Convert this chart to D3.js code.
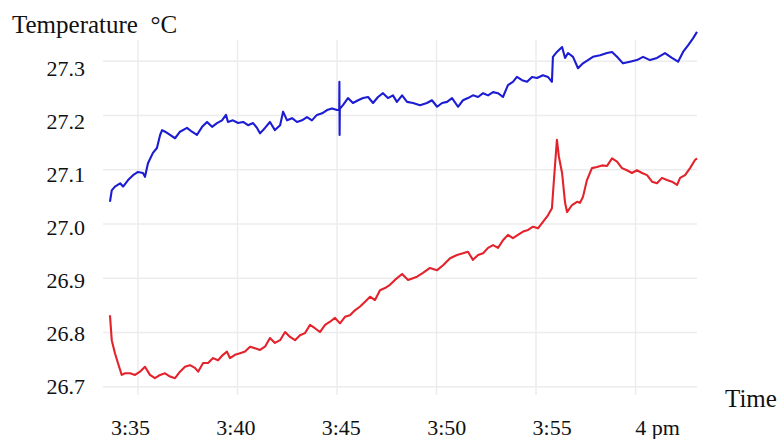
<!DOCTYPE html>
<html>
<head>
<meta charset="utf-8">
<script src="https://cdn.jsdelivr.net/npm/d3@7"></script>
<style>
  body { margin: 0; background: #fff; }
  svg { display: block; font-family: "Liberation Serif", "Times New Roman", serif; }
  .grid line { stroke: #ececec; stroke-width: 1.5; }
  .axis path, .axis line { display: none; }
  .axis text { fill: #111; font-size: 22px; font-family: "Liberation Serif", serif; }
</style>
</head>
<body>
<svg id="chart"></svg>
<script>
// time in minutes past 3:00 pm, temperature in °C
const blueTime = [33.59, 33.68, 33.84, 34.10, 34.25, 34.50, 34.75, 35.00, 35.25, 35.35, 35.50, 35.75, 35.95, 36.11, 36.21, 36.36, 36.61, 36.86, 37.11, 37.46, 37.71, 37.96, 38.22, 38.47, 38.72, 38.97, 39.22, 39.42, 39.52, 39.77, 40.03, 40.28, 40.53, 40.78, 40.98, 41.13, 41.38, 41.63, 41.88, 42.14, 42.29, 42.49, 42.74, 42.99, 43.24, 43.49, 43.74, 43.99, 44.25, 44.50, 44.75, 45.00, 45.11, 45.12, 45.13, 45.14, 45.30, 45.55, 45.80, 46.06, 46.31, 46.56, 46.81, 47.06, 47.31, 47.56, 47.81, 48.01, 48.27, 48.52, 48.82, 49.17, 49.52, 49.77, 50.03, 50.28, 50.53, 50.78, 51.08, 51.33, 51.58, 51.83, 52.09, 52.34, 52.59, 52.84, 53.09, 53.34, 53.59, 53.84, 54.04, 54.30, 54.55, 54.80, 55.05, 55.35, 55.60, 55.80, 55.85, 56.05, 56.31, 56.46, 56.61, 56.86, 57.11, 57.36, 57.61, 57.86, 58.22, 58.57, 58.82, 59.07, 59.37, 59.72, 60.07, 60.38, 60.73, 61.08, 61.48, 61.83, 62.14, 62.39, 62.64, 62.89, 63.09];
const blueTemp = [27.041, 27.062, 27.069, 27.075, 27.069, 27.081, 27.090, 27.096, 27.094, 27.087, 27.112, 27.131, 27.140, 27.164, 27.173, 27.170, 27.164, 27.158, 27.170, 27.177, 27.170, 27.164, 27.179, 27.188, 27.179, 27.186, 27.191, 27.201, 27.188, 27.191, 27.186, 27.188, 27.182, 27.186, 27.177, 27.167, 27.177, 27.188, 27.173, 27.182, 27.207, 27.191, 27.195, 27.188, 27.191, 27.197, 27.191, 27.201, 27.204, 27.210, 27.213, 27.210, 27.210, 27.262, 27.164, 27.212, 27.219, 27.232, 27.223, 27.228, 27.232, 27.234, 27.223, 27.234, 27.241, 27.232, 27.237, 27.225, 27.237, 27.225, 27.223, 27.219, 27.223, 27.228, 27.216, 27.223, 27.225, 27.232, 27.216, 27.228, 27.232, 27.237, 27.234, 27.241, 27.237, 27.243, 27.241, 27.234, 27.256, 27.262, 27.271, 27.265, 27.262, 27.271, 27.269, 27.274, 27.271, 27.262, 27.308, 27.317, 27.326, 27.306, 27.315, 27.308, 27.287, 27.296, 27.302, 27.308, 27.311, 27.315, 27.317, 27.308, 27.296, 27.299, 27.302, 27.308, 27.302, 27.306, 27.315, 27.306, 27.299, 27.317, 27.329, 27.342, 27.354];

const redTime = [33.59, 33.68, 33.84, 33.99, 34.18, 34.35, 34.60, 34.85, 35.10, 35.35, 35.60, 35.85, 36.11, 36.36, 36.61, 36.86, 37.11, 37.36, 37.61, 37.86, 38.02, 38.27, 38.52, 38.77, 39.02, 39.27, 39.47, 39.62, 39.87, 40.13, 40.38, 40.63, 40.88, 41.13, 41.38, 41.63, 41.88, 42.14, 42.39, 42.64, 42.89, 43.14, 43.39, 43.64, 43.89, 44.14, 44.40, 44.65, 44.90, 45.15, 45.40, 45.65, 45.90, 46.16, 46.41, 46.66, 46.91, 47.16, 47.41, 47.66, 47.91, 48.27, 48.57, 49.02, 49.32, 49.67, 50.03, 50.33, 50.68, 51.03, 51.33, 51.58, 51.83, 52.09, 52.34, 52.59, 52.84, 53.09, 53.34, 53.59, 53.84, 54.09, 54.35, 54.60, 54.85, 55.10, 55.35, 55.60, 55.80, 55.90, 56.05, 56.15, 56.31, 56.46, 56.56, 56.81, 57.06, 57.21, 57.36, 57.56, 57.81, 58.06, 58.32, 58.57, 58.82, 59.07, 59.32, 59.57, 59.82, 60.07, 60.33, 60.58, 60.83, 61.08, 61.33, 61.58, 61.83, 62.09, 62.24, 62.49, 62.74, 62.99, 63.09];
const redTemp = [26.832, 26.786, 26.762, 26.744, 26.722, 26.725, 26.725, 26.722, 26.728, 26.737, 26.722, 26.716, 26.722, 26.725, 26.719, 26.716, 26.728, 26.737, 26.740, 26.735, 26.728, 26.744, 26.744, 26.753, 26.749, 26.759, 26.765, 26.753, 26.759, 26.762, 26.765, 26.774, 26.771, 26.768, 26.774, 26.790, 26.781, 26.786, 26.801, 26.792, 26.786, 26.795, 26.799, 26.814, 26.808, 26.801, 26.814, 26.820, 26.827, 26.817, 26.829, 26.832, 26.841, 26.848, 26.857, 26.866, 26.860, 26.878, 26.882, 26.888, 26.897, 26.908, 26.897, 26.903, 26.910, 26.919, 26.915, 26.924, 26.937, 26.943, 26.946, 26.949, 26.934, 26.943, 26.946, 26.956, 26.961, 26.956, 26.970, 26.980, 26.974, 26.980, 26.986, 26.989, 26.995, 26.992, 27.004, 27.016, 27.029, 27.081, 27.155, 27.124, 27.094, 27.039, 27.022, 27.035, 27.041, 27.039, 27.050, 27.081, 27.103, 27.105, 27.108, 27.107, 27.121, 27.115, 27.103, 27.099, 27.094, 27.099, 27.094, 27.090, 27.078, 27.075, 27.085, 27.081, 27.078, 27.072, 27.085, 27.090, 27.103, 27.118, 27.121];

const xTicks = [35, 40, 45, 50, 55, 60];
const xTickLabels = ['3:35', '3:40', '3:45', '3:50', '3:55', '4 pm'];
const yTicks = [26.7, 26.8, 26.9, 27.0, 27.1, 27.2, 27.3];

const width = 781, height = 439;

const svg = d3.select('#chart')
    .attr('width', width)
    .attr('height', height);

const xScale = d3.scaleLinear().domain([33.24, 63.09]).range([103, 697]);
const yScale = d3.scaleLinear().domain([26.685, 27.339]).range([395, 40]);

// tick labels in the original sit slightly off their gridlines
const xLabelScale = d3.scaleLinear().domain([35, 60]).range([130, 657]);
const yLabelScale = d3.scaleLinear().domain([26.7, 27.3]).range([386, 68.5]);

// Gridlines
svg.append('g')
    .attr('class', 'grid')
    .selectAll('line.h')
    .data(yTicks)
  .join('line')
    .attr('x1', xScale.range()[0])
    .attr('x2', xScale.range()[1])
    .attr('y1', d => yScale(d))
    .attr('y2', d => yScale(d));

svg.append('g')
    .attr('class', 'grid')
    .selectAll('line.v')
    .data(xTicks)
  .join('line')
    .attr('x1', d => xScale(d))
    .attr('x2', d => xScale(d))
    .attr('y1', yScale.range()[0])
    .attr('y2', yScale.range()[1]);

// Axes (labels only)
const xAxis = d3.axisBottom(xLabelScale)
    .tickValues(xTicks)
    .tickSize(0)
    .tickPadding(0)
    .tickFormat((d, i) => xTickLabels[i]);

const yAxis = d3.axisLeft(yLabelScale)
    .tickValues(yTicks)
    .tickSize(0)
    .tickPadding(0)
    .tickFormat(d3.format('.1f'));

svg.append('g')
    .attr('class', 'axis x-axis')
    .attr('transform', 'translate(0,419)')
    .call(xAxis);

svg.append('g')
    .attr('class', 'axis y-axis')
    .attr('transform', 'translate(85,0)')
    .call(yAxis);

// Lines
const line = d3.line()
    .x(d => xScale(d[0]))
    .y(d => yScale(d[1]));

svg.append('path')
    .datum(d3.zip(redTime, redTemp))
    .attr('fill', 'none')
    .attr('stroke', '#e3222b')
    .attr('stroke-width', 2.1)
    .attr('stroke-linejoin', 'round')
    .attr('d', line);

svg.append('path')
    .datum(d3.zip(blueTime, blueTemp))
    .attr('fill', 'none')
    .attr('stroke', '#1c1cd2')
    .attr('stroke-width', 2.1)
    .attr('stroke-linejoin', 'round')
    .attr('d', line);

// Titles
svg.append('text')
    .attr('x', 12)
    .attr('y', 33)
    .attr('font-size', 25)
    .attr('fill', '#111')
    .text('Temperature\u2002°C');

svg.append('text')
    .attr('x', 725)
    .attr('y', 407)
    .attr('font-size', 25)
    .attr('fill', '#111')
    .text('Time');
</script>
</body>
</html>
